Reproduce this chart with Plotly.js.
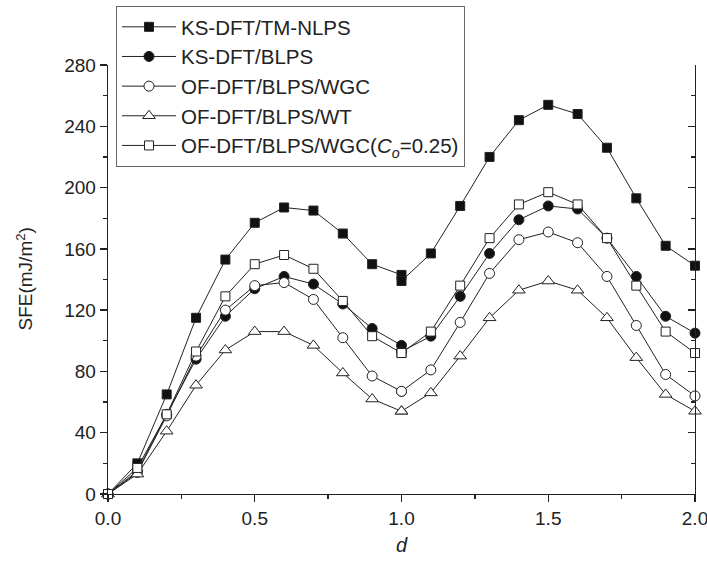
<!DOCTYPE html>
<html>
<head>
<meta charset="utf-8">
<script src="https://cdn.plot.ly/plotly-3.0.1.min.js"></script>
<style>html,body{margin:0;padding:0;background:#fff;}#chart{width:707px;height:565px;}</style>
</head>
<body>
<div id="chart"></div>
<script>
// d = 1.0 appears twice (two overlapping markers in the reference)
const d = [0, 0.1, 0.2, 0.3, 0.4, 0.5, 0.6, 0.7, 0.8, 0.9, 1.0, 1.0, 1.1, 1.2, 1.3, 1.4, 1.5, 1.6, 1.7, 1.8, 1.9, 2.0];
const ksTM = [0, 20, 65, 115, 153, 177, 187, 185, 170, 150, 143, 139, 157, 188, 220, 244, 254, 248, 226, 193, 162, 149];
const ksBLPS = [0, 15, 52, 88, 116, 134, 142, 137, 124, 108, 97, 93, 103, 129, 157, 179, 188, 186, 167, 142, 116, 105];
const ofWGC = [0, 14, 51, 90, 120, 136, 138, 127, 102, 77, 67, 67, 81, 112, 144, 166, 171, 164, 142, 110, 78, 64];
const ofWT = [0, 13, 41, 71, 94, 106, 106, 97, 79, 62, 54, 54, 66, 90, 115, 133, 139, 133, 115, 89, 65, 54];
const ofWGC025 = [0, 17, 52, 93, 129, 150, 156, 147, 126, 103, 92, 92, 106, 136, 167, 189, 197, 189, 167, 136, 106, 92];
const names = ['KS-DFT/TM-NLPS', 'KS-DFT/BLPS', 'OF-DFT/BLPS/WGC', 'OF-DFT/BLPS/WT', 'OF-DFT/BLPS/WGC(<i>C<sub>o</sub></i>=0.25)'];
const yTicks = [0, 40, 80, 120, 160, 200, 240, 280];
const xTitle = '<i>d</i>';
const yTitle = 'SFE(mJ/m<sup>2</sup>)';

const lineC = '#222';
function tr(y, name, symbol, fill, size) {
  return {
    x: d, y: y, name: name, type: 'scatter', mode: 'lines+markers',
    line: {color: lineC, width: 1},
    marker: {symbol: symbol, size: size, color: fill, line: {color: lineC, width: 1}},
    cliponaxis: false
  };
}
const data = [
  tr(ksTM, names[0], 'square', '#111', 9),
  tr(ksBLPS, names[1], 'circle', '#111', 10),
  tr(ofWGC, names[2], 'circle', '#fff', 10),
  tr(ofWT, names[3], 'triangle-up', '#fff', 11),
  tr(ofWGC025, names[4], 'square', '#fff', 9),
  {x: d, y: ksTM, yaxis: 'y2', mode: 'markers', marker: {opacity: 0}, showlegend: false, hoverinfo: 'skip'}
];

const font = {family: 'Liberation Sans, Arial, sans-serif', color: '#222'};
const axCommon = {
  showline: true, linecolor: lineC, linewidth: 1.3, showgrid: false, zeroline: false,
  ticks: 'outside', ticklen: 7, tickwidth: 1.3, tickcolor: lineC,
  tickfont: Object.assign({size: 19}, font), automargin: false, ticklabeloverflow: 'allow'
};
const layout = {
  width: 707, height: 565,
  margin: {l: 108, r: 12, t: 65, b: 71, autoexpand: false},
  paper_bgcolor: '#fff', plot_bgcolor: '#fff',
  font: font,
  showlegend: true,
  xaxis: Object.assign({}, axCommon, {
    range: [0, 2], dtick: 0.5, tick0: 0, tickformat: '.1f',
    minor: {ticks: 'outside', dtick: 0.25, ticklen: 4, tickwidth: 1.3, tickcolor: lineC}
  }),
  yaxis: Object.assign({}, axCommon, {
    range: [0, 280], tickmode: 'array', tickvals: yTicks,
    minor: {ticks: 'outside', dtick: 20, ticklen: 4, tickwidth: 1.3, tickcolor: lineC}
  }),
  yaxis2: {
    overlaying: 'y', side: 'right', range: [0, 280], tickmode: 'array', tickvals: yTicks,
    showline: true, linecolor: lineC, linewidth: 1.3, showgrid: false, zeroline: false,
    ticks: 'inside', ticklen: 7, tickwidth: 1.3, tickcolor: lineC, showticklabels: false,
    minor: {ticks: 'inside', dtick: 20, ticklen: 4, tickwidth: 1.3, tickcolor: lineC},
    automargin: false
  },
  annotations: [
    {text: xTitle, xref: 'paper', yref: 'paper', x: 0.5, y: -(545 - 494) / 429,
     xanchor: 'center', yanchor: 'middle', showarrow: false, font: Object.assign({size: 20}, font)},
    {text: yTitle, xref: 'paper', yref: 'paper', x: (24 - 108) / 587, y: 0.5, textangle: -90,
     xanchor: 'center', yanchor: 'middle', showarrow: false, font: Object.assign({size: 19}, font)}
  ],
  legend: {
    xref: 'container', yref: 'container', x: 116 / 707, y: 1 - 6 / 565,
    xanchor: 'left', yanchor: 'top',
    bgcolor: '#fff', bordercolor: '#666', borderwidth: 1,
    font: Object.assign({size: 20.5}, font),
    itemwidth: 54, tracegroupgap: 0
  }
};
Plotly.newPlot('chart', data, layout, {displayModeBar: false, staticPlot: true});
</script>
</body>
</html>
